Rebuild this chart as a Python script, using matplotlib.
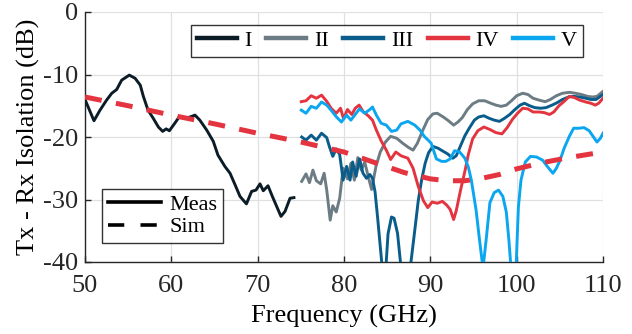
import matplotlib
matplotlib.use("Agg")
import matplotlib.pyplot as plt
from matplotlib.lines import Line2D

plt.rcParams['font.family'] = ['Liberation Serif', 'DejaVu Serif']
plt.rcParams['axes.unicode_minus'] = False

# ---- data ----
f_I = [50.0, 51.04, 51.74, 52.5, 53.1, 53.67, 54.25, 55.13, 55.8, 56.4, 56.76, 57.3, 57.9, 58.5,
       59.0, 59.4, 59.77, 60.4, 60.9, 61.6, 62.16, 62.74, 63.3, 64.1, 64.86, 65.4, 66.2, 66.8,
       67.4, 67.95, 68.7, 69.3, 69.8, 70.27, 70.65, 71.2, 71.7, 72.2, 72.7, 73.17, 73.75, 74.2]
v_I = [-14.0, -17.4, -15.7, -14.1, -13.0, -12.4, -10.9, -10.1, -10.6, -11.7, -13.5, -15.7, -17.0, -18.4,
       -19.1, -18.7, -19.0, -17.8, -16.8, -17.0, -16.8, -16.5, -17.3, -18.9, -20.7, -22.9, -24.7, -25.8,
       -27.7, -29.5, -30.7, -28.7, -28.5, -27.5, -28.6, -27.8, -29.5, -31.1, -32.7, -31.9, -29.8, -29.7]

f_II = [75.1, 75.6, 76.0, 76.4, 76.8, 77.3, 77.7, 78.0, 78.4, 78.7, 79.1, 79.5, 79.9, 80.4, 80.8,
        81.2, 81.6, 82.0, 82.4, 82.8, 83.2, 83.7, 84.2, 84.8, 85.4, 86.1, 86.8, 87.5, 88.0, 88.5,
        89.1, 89.7, 90.3, 90.8, 91.5, 92.1, 92.7, 93.2, 93.7, 94.3, 94.9, 95.6, 96.3, 97.0, 97.6,
        98.2, 98.8, 99.4, 100.0, 100.7, 101.3, 101.9, 102.6, 103.3, 103.9, 104.6, 105.3, 106.1,
        106.8, 107.5, 108.2, 108.8, 109.3, 110.0]
v_II = [-27.1, -25.9, -27.3, -25.3, -27.0, -27.5, -25.8, -28.5, -33.3, -31.0, -32.0, -29.8, -25.0, -26.7, -24.2,
        -26.9, -23.3, -25.3, -24.0, -26.3, -28.4, -24.7, -22.4, -20.8, -19.9, -20.2, -21.0, -21.7, -22.1, -21.0,
        -19.0, -17.2, -16.3, -16.2, -16.8, -17.4, -18.1, -17.6, -16.9, -15.6, -14.7, -14.2, -14.2, -14.6, -14.9,
        -15.1, -14.9, -14.2, -13.4, -13.0, -13.2, -13.8, -14.1, -14.35, -14.0, -13.4, -13.0, -12.85,
        -13.0, -13.2, -13.5, -13.6, -13.5, -12.7]

f_III = [75.1, 75.6, 76.2, 76.8, 77.4, 78.0, 78.3, 78.7, 79.1, 79.5, 79.9, 80.3, 80.7, 81.0, 81.4,
         81.8, 82.2, 82.6, 83.0, 83.3, 83.6, 83.9, 84.2, 84.5, 84.8, 85.1, 85.5, 85.8, 86.2, 86.5,
         86.8, 87.5, 87.8, 88.2, 88.6, 89.0, 89.4, 89.8, 90.3, 90.9, 91.5, 92.0, 92.6, 93.0, 93.5,
         94.0, 94.5, 95.1, 95.6, 96.2, 96.8, 97.4, 98.0, 98.6, 99.2, 99.8, 100.4, 100.9, 101.5,
         102.1, 102.8, 103.4, 104.1, 104.7, 105.3, 106.0, 106.6, 107.3, 108.0, 108.6, 109.2, 110.0]
v_III = [-20.0, -20.5, -19.7, -20.5, -19.4, -20.1, -21.5, -23.1, -21.9, -22.8, -26.9, -24.7, -26.9, -24.0, -26.3,
         -23.5, -25.8, -26.6, -26.0, -26.6, -28.8, -33.0, -37.5, -42.0, -42.0, -35.5, -32.8, -33.0, -35.4, -39.5,
         -43.0, -43.0, -39.5, -34.9, -30.2, -26.8, -24.2, -22.5, -21.5, -21.8, -22.3, -22.7, -23.4, -23.0, -21.4,
         -19.8, -18.6, -17.3, -16.8, -16.6, -17.0, -17.3, -17.5, -17.0, -16.4, -15.6, -14.9, -14.6, -15.0,
         -15.3, -15.4, -15.3, -14.9, -14.5, -14.0, -13.6, -13.5, -13.6, -13.8, -14.0, -14.0, -13.2]

f_IV = [75.05, 75.6, 76.2, 76.8, 77.4, 78.0, 78.5, 79.1, 79.6, 79.95, 80.4, 80.9, 81.3, 81.75, 82.2,
        82.8, 83.3, 83.75, 84.3, 84.9, 85.4, 86.0, 86.6, 87.4, 88.0, 88.6, 89.2, 89.7, 90.2, 90.8,
        91.4, 91.9, 92.3, 92.7, 93.0, 93.5, 94.0, 94.4, 94.9, 95.5, 96.2, 96.9, 97.6, 98.3, 98.9,
        99.5, 100.1, 100.7, 101.3, 101.9, 102.6, 103.2, 103.8, 104.3, 104.9, 105.5, 106.1, 106.7,
        107.3, 108.0, 108.6, 109.1, 109.5, 110.0]
v_IV = [-14.35, -14.2, -13.4, -13.8, -13.3, -14.3, -15.4, -16.2, -15.4, -17.1, -15.6, -16.4, -15.4, -14.9, -15.9,
        -16.6, -17.3, -18.9, -20.6, -22.1, -23.6, -22.4, -23.0, -23.4, -25.0, -27.9, -30.2, -31.3, -30.4, -30.6,
        -30.3, -30.9, -31.6, -33.2, -31.8, -28.5, -25.5, -22.8, -20.3, -19.0, -18.4, -18.8, -19.3, -19.5, -18.5,
        -17.2, -16.2, -15.4, -15.5, -16.0, -16.0, -16.1, -16.4, -16.0, -15.0, -14.3, -13.5, -13.7,
        -14.1, -14.4, -14.6, -14.9, -14.6, -13.8]

f_V = [75.05, 75.6, 76.2, 76.8, 77.4, 78.0, 78.5, 79.1, 79.7, 80.3, 80.8, 81.4, 81.8, 82.4, 83.0,
       83.3, 83.75, 84.3, 84.9, 85.5, 86.1, 86.6, 87.4, 88.2, 88.8, 89.3, 90.1, 90.7, 91.3, 91.8,
       92.3, 92.8, 93.4, 94.0, 94.4, 94.75, 95.3, 95.7, 96.1, 96.5, 96.9, 97.4, 97.9, 98.4, 98.8,
       99.1, 99.4, 99.9, 100.2, 100.5, 101.0, 101.6, 102.3, 103.0, 103.6, 104.2, 104.6, 105.0,
       105.5, 106.1, 106.6, 107.2, 107.8, 108.4, 108.9, 109.3, 109.7, 110.0]
v_V = [-15.7, -16.2, -15.1, -15.4, -14.4, -14.9, -15.7, -16.75, -17.6, -16.5, -17.3, -16.2, -15.5, -16.2, -15.6,
       -15.2, -16.5, -17.8, -18.1, -19.1, -18.9, -17.9, -17.5, -18.1, -18.9, -19.9, -21.0, -23.5, -23.9, -23.9,
       -23.5, -22.2, -22.4, -23.4, -24.8, -26.9, -31.7, -36.5, -41.0, -36.0, -30.5, -28.9, -28.5, -29.5, -32.0,
       -36.5, -42.0, -42.0, -31.2, -26.9, -24.0, -23.1, -23.2, -23.7, -24.8, -25.8, -25.0, -23.8,
       -21.8, -19.9, -18.6, -18.6, -18.5, -19.0, -20.0, -20.8, -20.2, -19.4]

f_sim = [50, 55, 60, 65, 70, 75, 80, 84, 87, 90, 92, 94, 96, 98, 100, 103, 106, 110]
v_sim = [-13.6, -15.0, -16.5, -17.9, -19.4, -20.8, -22.4, -24.3, -25.7, -26.7, -27.0, -27.0, -26.6,
         -26.0, -25.1, -24.1, -23.3, -22.4]

labels = ['I', 'II', 'III', 'IV', 'V']
colors = ['#0b1c26', '#6c7c84', '#0a5d8a', '#e3343f', '#0aa6f0']
sim_color = '#e3343f'

xticks = [50, 60, 70, 80, 90, 100, 110]
yticks = [0, -10, -20, -30, -40]

# ---- figure ----
fig = plt.figure(figsize=(6.32, 3.34), dpi=100)
ax = fig.add_axes([85/632, 1-262/334, 518/632, 250/334])

lw = 2.1
series = [(f_I, v_I), (f_II, v_II), (f_III, v_III), (f_IV, v_IV), (f_V, v_V)]
for i in [1, 2, 3, 4, 0]:
    f, v = series[i]
    ax.plot(f, v, color=colors[i], lw=lw, solid_joinstyle='round', zorder=3)
handles = [Line2D([], [], color=colors[i], lw=3.2) for i in range(5)]

ax.plot(f_sim, v_sim, color=sim_color, lw=3.6, dashes=(3.4, 2.9), zorder=4)

ax.set_xlim(50, 110)
ax.set_ylim(-40, 0)
ax.set_xticks(xticks)
ax.set_yticks(yticks)
ax.set_yticklabels([str(t) for t in yticks])
ax.grid(True, color='#e0e0e0', lw=0.9)
ax.set_axisbelow(True)
for s in ['top', 'right']:
    ax.spines[s].set_visible(False)
for s in ['left', 'bottom']:
    ax.spines[s].set_linewidth(1.0)
    ax.spines[s].set_color('#262626')
ax.tick_params(direction='in', length=4, width=1, labelsize=19, colors='#262626')
ax.tick_params(axis='x', pad=9)
ax.tick_params(axis='y', pad=5)
ax.set_xlabel('Frequency (GHz)', fontsize=19, labelpad=6)
ax.set_ylabel('Tx - Rx Isolation (dB)', fontsize=19, labelpad=2)

leg1 = ax.legend(handles, labels, loc='upper right', bbox_to_anchor=(0.961, 0.948), ncol=5,
                 fontsize=16, frameon=True, fancybox=False, edgecolor='black', handlelength=1.8,
                 columnspacing=0.65, handletextpad=0.35, borderpad=0.25, borderaxespad=0)
leg1.get_frame().set_linewidth(1.0)
ax.add_artist(leg1)

h2 = [Line2D([], [], color='black', lw=2.6),
      Line2D([], [], color='black', lw=2.6, dashes=(4.5, 4.5))]
leg2 = ax.legend(h2, ['Meas', 'Sim'], loc='lower left', bbox_to_anchor=(0.033, 0.076),
                 fontsize=16, frameon=True, fancybox=False, edgecolor='black', handlelength=2.4,
                 handletextpad=0.4, borderpad=0.25, labelspacing=0.1, borderaxespad=0)
leg2.get_frame().set_linewidth(1.0)

fig.savefig('out.png', dpi=100)
